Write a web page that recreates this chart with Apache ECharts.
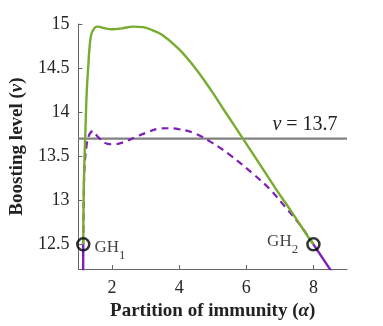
<!DOCTYPE html>
<html><head><meta charset="utf-8">
<script src="https://cdn.jsdelivr.net/npm/echarts@6/dist/echarts.min.js"></script>
<style>html,body{margin:0;padding:0;background:#fff}#c{width:383px;height:326px}</style>
</head><body><div id="c"></div>
<script>
const xTicks = [2, 4, 6, 8];
const yTicks = [12.5, 13, 13.5, 14, 14.5, 15];
const greenCurve = [[1.145,12.5],[1.155,13.0],[1.175,13.4],[1.21,13.8],[1.245,14.2],[1.29,14.5],[1.37,14.86],[1.47,14.95],[1.58,14.97],[1.8,14.95],[2.0,14.94],[2.3,14.95],[2.63,14.97],[2.92,14.965],[3.2,14.93],[3.5,14.875],[3.98,14.72],[4.46,14.51],[4.95,14.25],[5.43,13.97],[5.9,13.70],[6.4,13.41],[6.88,13.13],[7.4,12.84],[7.85,12.58],[8,12.5]];
const dashedCurve = [[1.145,12.5],[1.16,13.0],[1.18,13.35],[1.24,13.61],[1.32,13.74],[1.43,13.785],[1.58,13.72],[1.87,13.64],[2.06,13.635],[2.35,13.66],[2.72,13.72],[3.01,13.765],[3.4,13.812],[3.7,13.817],[3.98,13.808],[4.46,13.76],[4.95,13.66],[5.53,13.51],[6.2,13.30],[6.69,13.13],[7.17,12.92],[7.66,12.69],[8,12.5]];
const stableLeft = [[1.14,12.1],[1.145,12.5]];
const stableRight = [[8,12.5],[8.56,12.18]];
const thresholdValue = 13.7;
const thresholdLine = [[1, thresholdValue], [9, thresholdValue]];
const ghPoints = [[1.145,12.5],[8,12.5]];
const ghSubs = ['1','2'];

const FONT = 'Liberation Serif';
const GREEN = '#77AC30', PURPLE = '#7E1FB8', AXIS = '#666';

const chart = echarts.init(document.getElementById('c'), null, {renderer:'canvas'});
chart.setOption({
  animation: false,
  backgroundColor: '#fff',
  grid: {left: 71, right: 36, top: 24, bottom: 57},
  xAxis: {
    type: 'value', min: 1, max: 9,
    name: '{b|Partition of immunity (}{i|α}{b|)}',
    nameLocation: 'middle', nameGap: 31,
    nameTextStyle: {rich: {
      b: {fontFamily: FONT, fontWeight: 'bold', fontSize: 19, color: '#222'},
      i: {fontFamily: FONT, fontWeight: 'bold', fontStyle: 'italic', fontSize: 19, color: '#222'}
    }},
    axisLine: {onZero: false, lineStyle: {color: AXIS, width: 1}},
    axisTick: {inside: true, length: 4, customValues: xTicks, lineStyle: {color: AXIS}},
    axisLabel: {customValues: xTicks, fontFamily: FONT, fontSize: 18, color: '#262626', margin: 10},
    splitLine: {show: false}
  },
  yAxis: {
    type: 'value', min: 12.22, max: 15,
    name: '{b|Boosting level (}{i|ν}{b|)}',
    nameLocation: 'middle', nameGap: 48,
    nameTextStyle: {rich: {
      b: {fontFamily: FONT, fontWeight: 'bold', fontSize: 19, color: '#222'},
      i: {fontFamily: FONT, fontWeight: 'bold', fontStyle: 'italic', fontSize: 19, color: '#222'}
    }},
    axisLine: {show: true, onZero: false, lineStyle: {color: AXIS, width: 1}},
    axisTick: {show: true, inside: true, length: 4, customValues: yTicks, lineStyle: {color: AXIS}},
    axisLabel: {customValues: yTicks, fontFamily: FONT, fontSize: 18, color: '#262626', margin: 9},
    splitLine: {show: false}
  },
  series: [
    {type: 'line', data: thresholdLine, symbol: 'none', lineStyle: {color: '#808080', width: 2.2}, z: 1,
     markPoint: {symbol: 'circle', symbolSize: 0, silent: true,
       data: [{coord: [8.72, thresholdValue]}],
       label: {show: true, position: [0, 0], align: 'right', verticalAlign: 'bottom', offset: [0, -4],
         formatter: '{i|ν}{t| = ' + thresholdValue + '}',
         rich: {i: {fontFamily: FONT, fontStyle: 'italic', fontSize: 20, color: '#222'},
                t: {fontFamily: FONT, fontSize: 20, color: '#222'}}}}},
    {type: 'line', data: dashedCurve, symbol: 'none', smooth: 0.4, lineStyle: {color: PURPLE, width: 2.2, type: [7, 5]}, z: 2},
    {type: 'line', data: greenCurve, symbol: 'none', smooth: 0.4, lineStyle: {color: GREEN, width: 2.4}, z: 3},
    {type: 'line', data: stableLeft, symbol: 'none', lineStyle: {color: PURPLE, width: 2.4}, z: 3},
    {type: 'line', data: stableRight, symbol: 'none', lineStyle: {color: PURPLE, width: 2.4}, z: 3},
    {type: 'scatter', symbol: 'circle', symbolSize: 12, z: 5,
     data: ghPoints.map((p, i) => ({value: p, label: i === 0
        ? {position: 'right', distance: 4, offset: [0, 6]}
        : {position: 'left', distance: 8, offset: [0, 0]}})),
     itemStyle: {color: 'rgba(0,0,0,0)', borderColor: '#000', borderWidth: 2.5},
     label: {show: true,
       formatter: p => '{m|GH}{s|' + ghSubs[p.dataIndex] + '}',
       rich: {m: {fontFamily: FONT, fontSize: 17, color: '#111', verticalAlign: 'top', padding: [0, 0, 6, 0]},
              s: {fontFamily: FONT, fontSize: 13, color: '#111', verticalAlign: 'bottom'}}}}
  ]
});
</script></body></html>
